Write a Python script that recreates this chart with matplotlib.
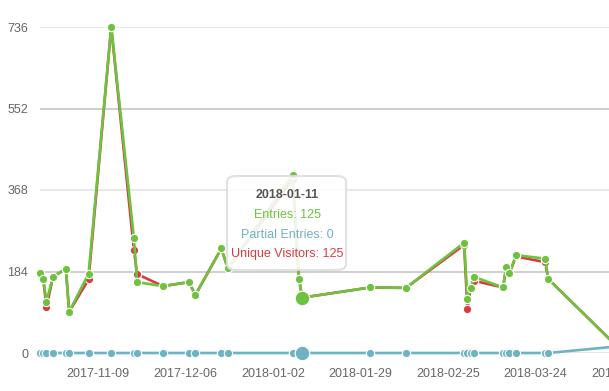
"""
Entries over time with hover tooltip.
"""
import numpy as np
import pandas as pd
import matplotlib.pyplot as plt
import matplotlib.dates as mdates
from matplotlib.patches import FancyBboxPatch

plt.rcParams['font.family'] = ['Liberation Sans', 'DejaVu Sans']

dates = pd.to_datetime([
    '2017-10-22', '2017-10-23', '2017-10-24', '2017-10-26', '2017-10-30',
    '2017-10-31', '2017-11-06', '2017-11-13', '2017-11-20', '2017-11-21',
    '2017-11-29', '2017-12-07', '2017-12-09', '2017-12-17', '2017-12-19',
    '2018-01-08', '2018-01-10', '2018-01-11', '2018-02-01', '2018-02-12',
    '2018-03-02', '2018-03-03', '2018-03-04', '2018-03-05', '2018-03-14',
    '2018-03-15', '2018-03-16', '2018-03-18', '2018-03-27', '2018-03-28',
    '2018-04-20'])
entries = [181, 167, 116, 172, 190, 93, 179, 736, 260, 160,
           151, 160, 131, 236, 191, 402, 167, 125, 148, 147,
           249, 123, 146, 172, 148, 194, 180, 221, 213, 167, 2]
visitors = [181, 167, 103, 172, 190, 93, 166, 736, 232, 178,
            151, 160, 131, 236, 191, 392, 167, 125, 148, 147,
            244, 99, 146, 163, 148, 194, 180, 218, 205, 167, 2]
partial = [0] * 30 + [16]

yticks = [0, 184, 368, 552, 736]
xtick_dates = pd.to_datetime(['2017-11-09', '2017-12-06', '2018-01-02',
                              '2018-01-29', '2018-02-25', '2018-03-24',
                              '2018-04-20'])
hover = 17  # index of hovered point

green = '#6fc23f'
red = '#d63c40'
blue = '#6fb3c2'

fig = plt.figure(figsize=(6.09, 3.91), dpi=100)
# plot area runs past the right edge, like the cropped screenshot
ax = fig.add_axes([40 / 609, 38 / 391, 599 / 609, 326 / 391])

x0 = pd.Timestamp('2017-10-22')
x1 = pd.Timestamp('2018-04-25')
ax.set_xlim(x0, x1)
ax.set_ylim(0, 736)

for v, c in zip(yticks, ['#e4e4e4', '#c6c6c6', '#e4e4e4', '#c6c6c6', '#e4e4e4']):
    ax.axhline(v, color=c, lw=1.2, zorder=0)

mk = dict(marker='o', markersize=6, markeredgecolor='white',
          markeredgewidth=0.8, lw=1.9, clip_on=False)
ax.plot(dates, partial, color=blue, zorder=3, **mk)
ax.plot(dates, visitors, color=red, zorder=4, **mk)
ax.plot(dates, entries, color=green, zorder=5, **mk)

# hovered markers
ax.plot(dates[hover], entries[hover], 'o', color=green, markersize=10.5,
        markeredgecolor='white', markeredgewidth=0.8, zorder=6)
ax.plot(dates[hover], partial[hover], 'o', color=blue, markersize=10.5,
        markeredgecolor='white', markeredgewidth=0.8, zorder=6, clip_on=False)

ax.set_yticks(yticks)
ax.set_yticklabels([str(v) for v in yticks])
ax.set_xticks(xtick_dates)
ax.xaxis.set_major_formatter(mdates.DateFormatter('%Y-%m-%d'))
ax.tick_params(axis='both', length=0, labelsize=9, labelcolor='#666666')
ax.tick_params(axis='y', pad=8.5)
ax.tick_params(axis='x', pad=11)
for s in ax.spines.values():
    s.set_visible(False)

# tooltip
box = FancyBboxPatch((227 / 609, 1 - 270 / 391), 119 / 609, 94 / 391,
                     boxstyle='round,pad=0,rounding_size=0.015',
                     transform=fig.transFigure, facecolor='white', alpha=0.88,
                     edgecolor='#dddddd', lw=1.5, zorder=10)
fig.patches.append(box)
cx = 287 / 609
fig.text(cx, 1 - 195 / 391, dates[hover].strftime('%Y-%m-%d'), ha='center',
         va='center', fontsize=9, fontweight='bold', color='#555555', zorder=11)
fig.text(cx, 1 - 215 / 391, f'Entries: {entries[hover]}', ha='center',
         va='center', fontsize=9, color=green, zorder=11)
fig.text(cx, 1 - 235 / 391, f'Partial Entries: {partial[hover]}', ha='center',
         va='center', fontsize=9, color=blue, zorder=11)
fig.text(cx, 1 - 254 / 391, f'Unique Visitors: {visitors[hover]}', ha='center',
         va='center', fontsize=9, color=red, zorder=11)

fig.savefig('out.png', dpi=100)
